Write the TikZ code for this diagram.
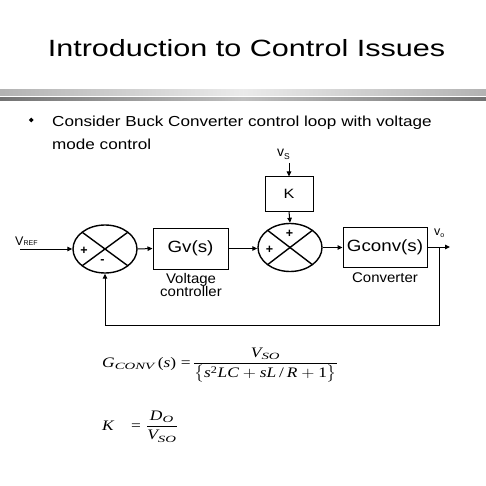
\documentclass[tikz,border=0pt]{standalone}
\usepackage{fontspec}
\usepackage{amsmath}
\setmainfont{Liberation Sans}
\newfontfamily\tms{Liberation Serif}
\usetikzlibrary{shapes.geometric,arrows.meta,calc}
\newcommand\mi[1]{\text{\tms\itshape #1}}
\newcommand\mr[1]{\text{\tms #1}}
\newcommand\sx[2]{\scalebox{#1}[1]{#2}}
\newcommand\msub[1]{\mbox{\fontsize{9.5}{9.5}\selectfont\tms\itshape\sx{1.3}{#1}}}
\begin{document}
\begin{tikzpicture}[x=1pt,y=-1pt,
  blk/.style={draw,line width=1pt,inner sep=0},
  sumj/.style={draw,ellipse,line width=1.4pt,minimum width=64pt,minimum height=48pt,inner sep=0},
  sig/.style={line width=1pt,-{Triangle[length=5pt,width=4.5pt]}},
  txt/.style={inner sep=0},
  blkfont/.style={font=\fontsize{16.3}{16.3}\selectfont},
  capfont/.style={font=\fontsize{14}{14}\selectfont},
  sgn/.style={inner sep=0,font=\fontsize{12.5}{12.5}\selectfont\bfseries},
]
\useasboundingbox (0,0) rectangle (486,486);
\fill[white] (0,0) rectangle (486,486);

% title and bars
\node[txt,anchor=base] (title) at (246.5,56.7) {\fontsize{23.5}{23.5}\selectfont\sx{1.3}{Introduction to Control Issues}};
\shade[left color=black!30,right color=black!30,middle color=black!8] (0,90) rectangle (486,95.7);
\shade[left color=black!55,right color=black!55,middle color=black!25] (0,97.3) rectangle (486,101);

% bullet text
\node[diamond,fill,inner sep=0,minimum size=5pt] (bul) at (31.3,120) {};
\node[txt,anchor=base west] (l1) at (52,127) {\fontsize{14.5}{14.5}\selectfont\sx{1.18}{Consider Buck Converter control loop with voltage}};
\node[txt,anchor=base west] (l2) at (52,150) {\fontsize{14.5}{14.5}\selectfont\sx{1.18}{mode control}};

% summing junctions
\node[sumj] (s1) at (105,249) {};
\node[sumj] (s2) at (290,247.5) {};
\draw[line width=1.4pt] ($(s1.center)+(-22.6,-16.6)$) -- ($(s1.center)+(22.6,16.6)$);
\draw[line width=1.4pt] ($(s1.center)+(22.6,-16.6)$) -- ($(s1.center)+(-22.6,16.6)$);
\draw[line width=1.4pt] ($(s2.center)+(-22.6,-17.3)$) -- ($(s2.center)+(22.6,17.3)$);
\draw[line width=1.4pt] ($(s2.center)+(22.6,-17.3)$) -- ($(s2.center)+(-22.6,17.3)$);
\node[sgn] (p1) at (84,251) {+};
\node[sgn] (m1) at (102.5,262) {-};
\node[sgn] (p2) at (289.5,234) {+};
\node[sgn] (p3) at (269.5,250) {+};

% blocks
\node[blk,blkfont,minimum width=75pt,minimum height=41pt] (gv) at (190.5,248.5) {\sx{1.15}{Gv(s)}};
\node[blk,minimum width=48pt,minimum height=34pt,font=\fontsize{13.5}{13.5}\selectfont] (k) at (289,194) {\sx{1.2}{K}};
\node[blk,blkfont,minimum width=84pt,minimum height=40pt] (gc) at (385,247) {\sx{1.15}{Gconv(s)}};
\node[txt,capfont,anchor=base] (vc1) at (191,283) {\sx{1.07}{Voltage}};
\node[txt,capfont,anchor=base] (vc2) at (191,296) {\sx{1.07}{controller}};
\node[txt,capfont,anchor=base] (cv) at (385,282) {\sx{1.07}{Converter}};

% signal labels
\node[txt,anchor=base west] (vref) at (15,245) {\fontsize{12.5}{12.5}\selectfont V{\fontsize{7}{7}\selectfont REF}};
\node[txt,anchor=base west] (vs) at (277,157) {\fontsize{14}{14}\selectfont v\raisebox{-3pt}{\fontsize{8.5}{8.5}\selectfont S}};
\node[txt,anchor=base west] (vo) at (434,235) {\fontsize{12.5}{12.5}\selectfont v\raisebox{-2pt}{\fontsize{7}{7}\selectfont o}};

% connectors
\coordinate (vin) at (20,249);
\coordinate (vsin) at (289,163);
\coordinate (tap) at (439,247);
\coordinate (vout) at (450,247);
\coordinate (fb) at (439,325);
\draw[sig] (vin) -- (s1.west);
\draw[sig] (s1.east) -- (gv.west);
\draw[sig] (gv.east) -- (gv.east -| s2.west);
\draw[sig] (s2.east) -- (s2.east -| gc.west);
\draw[sig] (gc.east) -- (vout);
\draw[sig] (vsin) -- (k.north);
\draw[sig] (k.south) -- (s2.north);
\draw[sig] (tap) -- (fb) -| (s1.south);

% formulas
\node[txt,anchor=base west] (f1) at (102,367) {\fontsize{14.5}{14.5}\selectfont\sx{1.2}{$\mi{G}_{\msub{CONV}}\,\mr{(}\mi{s}\mr{)}\mathrel{\mr{=}}\!\dfrac{\mi{V}_{\msub{SO}}}{\big\{\mi{s}^{\mr{2}}\mi{LC}+\mi{sL}\,\mr{/}\,\mi{R}+\mr{1}\big\}}$}};
\node[txt,anchor=base west] (f2) at (102,430) {\fontsize{14.5}{14.5}\selectfont\sx{1.2}{$\mi{K}\quad\mr{=}\;\dfrac{\mi{D}_{\msub{O}}}{\mi{V}_{\msub{SO}}}$}};
\end{tikzpicture}
\end{document}
